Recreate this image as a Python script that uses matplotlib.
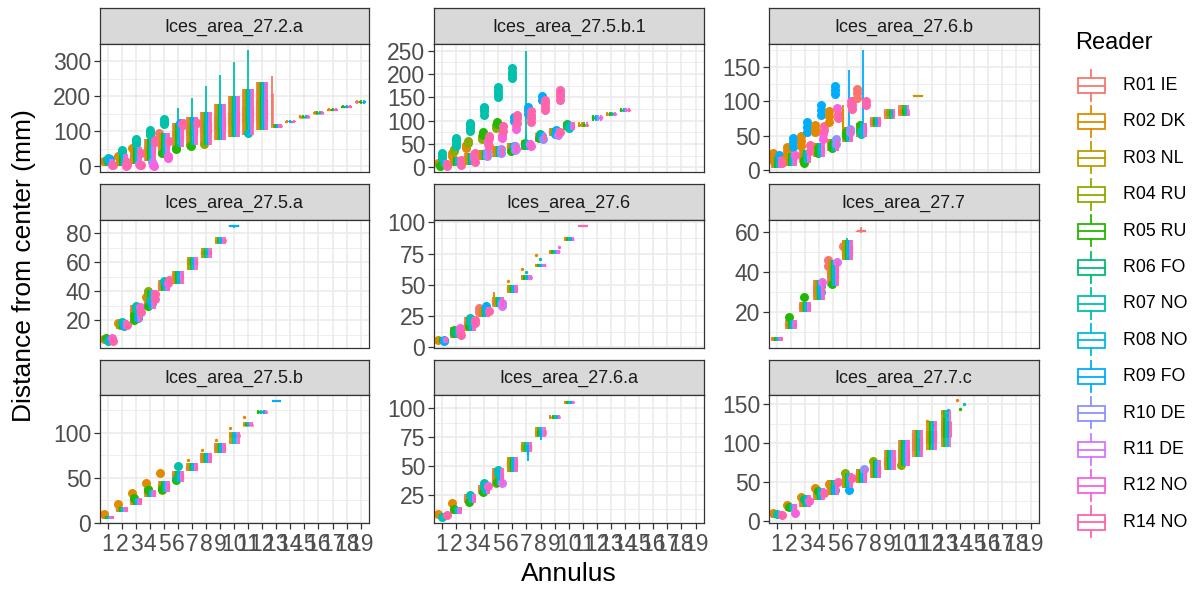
import matplotlib
matplotlib.use("Agg")
import matplotlib.pyplot as plt
from matplotlib.patches import Rectangle
from matplotlib.ticker import MultipleLocator, FixedLocator

plt.rcParams['font.family'] = ['Liberation Sans', 'DejaVu Sans']

# ---------------- data ----------------
READERS = ["R01 IE", "R02 DK", "R03 NL", "R04 RU", "R05 RU", "R06 FO", "R07 NO",
           "R08 NO", "R09 FO", "R10 DE", "R11 DE", "R12 NO", "R14 NO"]
COLORS = ["#F8766D", "#E18A00", "#BE9C00", "#8CAB00", "#24B700", "#00BE70", "#00C1AB",
          "#00BBDA", "#00ACFC", "#8B93FF", "#D575FE", "#F962DD", "#FF65AC"]
ANNULUS_LABELS = [str(i) for i in range(1, 20)]
ALL = list(range(13))

# Ices_area_27.2.a : (lo, q1, med, q3, hi) per annulus
a272a_ann = list(range(1, 20))
a272a_box = [(0, 3, 7, 12, 20), (2, 9, 15, 22, 35), (8, 22, 30, 38, 55), (15, 35, 45, 55, 78),
             (30, 52, 62, 72, 95), (55, 78, 90, 102, 125), (60, 88, 100, 115, 140),
             (62, 95, 110, 125, 155), (75, 105, 120, 140, 178), (85, 115, 135, 155, 200),
             (90, 125, 145, 170, 220), (105, 130, 160, 190, 240), (110, 113, 115, 117, 120),
             (124, 126, 128, 130, 133), (137, 139, 141, 143, 146), (148, 150, 152, 154, 157),
             (157, 159, 161, 163, 166), (166, 168, 170, 172, 175), (179, 181, 183, 185, 188)]
a272a_rd = {13: [0, 3, 4, 8, 11, 12], 14: [1, 8, 12], 15: [1, 4, 8, 12], 16: [1, 4, 8, 12],
            17: [1, 4, 11], 18: [4, 8, 12], 19: [0, 4, 8]}
a272a_long = [(6, 6, 100, 110, 125, 167), (7, 6, 105, 115, 135, 195), (8, 6, 100, 120, 145, 228),
              (9, 6, 110, 130, 160, 262), (10, 6, 120, 140, 180, 297), (11, 6, 120, 140, 200, 333),
              (12, 4, 105, 120, 200, 240), (13, 0, 110, 115, 210, 257)]
a272a_out = [(1, 6, [20, 25]), (1, 1, [15]), (1, 5, [18]), (1, 8, [20]), (1, 11, [5]), (1, 12, [4]),
             (2, 6, [40, 48]), (2, 1, [30]), (2, 11, [8, 2]), (2, 12, [12, 5]),
             (3, 6, [65, 72, 78]), (3, 1, [52]), (3, 12, [38, 5]), (3, 11, [3]), (3, 10, [8]),
             (4, 6, [90, 98, 105]), (4, 12, [76, 70]), (4, 10, [5, 8]), (4, 11, [2]), (4, 9, [12]),
             (5, 6, [120, 128, 135]), (5, 0, [95]), (5, 12, [72]), (5, 4, [38]), (5, 11, [25, 30]),
             (6, 4, [50]), (6, 3, [52]), (6, 12, [125, 118]), (6, 11, [120]), (6, 8, [125]),
             (7, 4, [57]), (7, 3, [62]), (7, 8, [130]), (7, 12, [125]), (8, 3, [65]), (11, 6, [95])]

# Ices_area_27.5.b.1
a275b1_ann = list(range(1, 15))
a275b1_box = [(0, 4, 8, 12, 16), (2, 8, 12, 17, 23), (6, 14, 19, 24, 31), (16, 22, 27, 32, 38),
              (23, 30, 34, 39, 45), (31, 37, 41, 46, 52), (38, 45, 50, 54, 59), (55, 60, 64, 68, 73),
              (66, 70, 75, 80, 84), (80, 84, 89, 93, 98), (86, 88, 90, 93, 96),
              (100, 103, 106, 109, 112), (110, 112, 114, 116, 118), (119, 121, 122, 124, 126)]
a275b1_rd = {11: [1, 2, 4, 12], 12: [4, 8, 9, 11], 13: [1, 4, 6, 11], 14: [4, 8, 11, 12]}
a275b1_long = [(7, 6, 55, 60, 70, 250)]
a275b1_out = [(1, 4, [2, 6]), (1, 6, [20, 26, 31]), (1, 1, [10]), (1, 12, [3, 8]),
              (2, 1, [25, 30]), (2, 3, [35, 40]), (2, 6, [45, 52, 58, 63]), (2, 12, [5, 10, 15]),
              (3, 1, [42, 48]), (3, 3, [52, 56]), (3, 6, [78, 84, 90, 95]), (3, 11, [20, 28]), (3, 12, [12, 30]),
              (4, 3, [60, 66]), (4, 4, [70, 76]), (4, 6, [113, 120, 126, 130]), (4, 11, [50, 56]),
              (4, 12, [45, 62, 68]), (4, 9, [25, 32]),
              (5, 3, [84, 90]), (5, 4, [92, 97]), (5, 6, [150, 157, 164, 171]), (5, 11, [62, 70]),
              (5, 12, [78, 88]), (5, 9, [30, 40]),
              (6, 6, [192, 198, 205, 212]), (6, 8, [100, 108]), (6, 11, [82, 90]), (6, 12, [95, 105, 112]),
              (6, 9, [38, 45]), (6, 4, [35]), (6, 8, [45]), (6, 10, [40]),
              (7, 8, [115, 122, 130]), (7, 12, [98, 105, 112, 120]), (7, 4, [48, 53]), (7, 10, [50]),
              (7, 5, [48]), (7, 11, [45]),
              (8, 8, [145, 152]), (8, 12, [122, 130, 138, 145]), (8, 5, [68, 72]), (8, 9, [60]),
              (8, 4, [62]), (8, 8, [66]),
              (9, 12, [145, 152, 160, 165]), (9, 8, [80]), (9, 10, [70]), (9, 7, [72]), (9, 12, [75]),
              (10, 4, [88, 92]), (10, 5, [90]), (10, 6, [85]), (12, 8, [108])]

# Ices_area_27.6.b
a276b_ann = list(range(1, 12))
a276b_box = [(3, 6, 9, 13, 19), (5, 10, 14, 18, 24), (10, 15, 19, 24, 29), (19, 24, 28, 33, 39),
             (28, 33, 36, 40, 45), (40, 46, 50, 55, 62), (48, 54, 58, 63, 68), (63, 66, 70, 74, 77),
             (74, 78, 81, 85, 89), (78, 82, 85, 89, 95), (107, 107.5, 108, 108.5, 109)]
a276b_rd = {8: [0, 1, 4, 6, 8, 11, 12], 9: [0, 1, 3, 4, 6, 8, 12], 10: [0, 1, 4, 5, 6, 11], 11: [2]}
a276b_long = [(6, 8, 48, 52, 60, 145), (7, 8, 53, 56, 66, 174), (6, 1, 55, 63, 87, 95)]
a276b_out = [(1, 1, [15, 20, 25]), (1, 8, [18, 22]), (1, 12, [10, 14]),
             (2, 1, [22, 28, 34]), (2, 8, [34, 40, 46]), (2, 11, [22]),
             (3, 1, [35, 42, 50]), (3, 8, [55, 62, 70]), (3, 12, [28, 36]), (3, 4, [10, 15]),
             (4, 1, [55, 60, 66]), (4, 8, [80, 87, 94]), (4, 11, [45, 52]), (4, 12, [58, 64]), (4, 4, [25, 32]),
             (5, 1, [70, 78, 85]), (5, 8, [110, 116, 122]), (5, 12, [75, 82]), (5, 11, [90]),
             (5, 4, [32, 38]), (5, 9, [38, 45]),
             (6, 12, [88, 95, 100]), (6, 11, [95, 100]), (6, 4, [50, 55]), (6, 9, [55, 60]),
             (7, 0, [105, 112, 118]), (7, 12, [95, 100]), (7, 4, [58, 65]), (7, 6, [52, 56]),
             (10, 11, [82])]

# Ices_area_27.5.a
a275a_ann = list(range(1, 11))
a275a_box = [(5, 6, 7, 8, 9), (14, 15, 16.5, 18, 20), (19, 22, 25, 28, 31), (28, 31, 34, 37, 41),
             (40, 42, 44, 46, 48), (45, 48, 50, 52, 54), (55, 58, 60, 62, 64), (63, 65, 66.5, 68, 70),
             (73, 74, 75, 76, 77.5), (84, 84.5, 85, 85.5, 86)]
a275a_rd = {7: [1, 3, 4, 6, 8, 10, 12], 8: [1, 3, 4, 6, 8, 10, 12], 9: [1, 4, 6, 8, 11, 12], 10: [8]}
a275a_long = []
a275a_out = [(1, 1, [7]), (1, 4, [8]), (1, 6, [6]), (1, 8, [7]), (1, 11, [8]), (1, 12, [6]),
             (2, 1, [18]), (2, 3, [17]), (2, 6, [19]), (2, 8, [16]), (2, 12, [17]),
             (3, 6, [28, 30]), (3, 4, [20, 24]), (3, 8, [22]), (3, 12, [26]), (3, 11, [29]),
             (4, 3, [38, 40]), (4, 1, [36]), (4, 6, [34]), (4, 8, [32]), (4, 12, [35, 38]), (4, 4, [30]),
             (5, 11, [46]), (5, 8, [45]), (5, 6, [47]), (5, 12, [48])]

# Ices_area_27.6
a276_ann = list(range(1, 12))
a276_box = [(3, 4, 5.5, 7, 8), (7, 9, 11, 13, 16), (13, 15, 18, 21, 24), (24, 26, 28, 30, 32),
            (32, 34, 36, 38, 40), (43, 45, 46.5, 48, 50), (54, 55, 56, 57, 58), (64, 65, 65.5, 66, 67),
            (75, 76, 76.5, 77, 78), (85, 86, 86.5, 87, 88), (96.5, 97, 97, 97, 97.5)]
a276_rd = {7: [1, 4, 6, 8, 10, 11], 8: [1, 4, 6, 8, 10, 11], 9: [1, 4, 6, 8, 10, 11],
           10: [1, 4, 6, 8, 11], 11: [12]}
a276_long = [(5, 1, 33, 35, 42, 44)]
a276_out = [(1, 8, [5, 6]), (1, 1, [6]),
            (2, 4, [11, 14]), (2, 5, [12]), (2, 11, [12, 15]), (2, 12, [10]),
            (3, 6, [20, 23]), (3, 4, [17]), (3, 12, [19, 22]),
            (4, 0, [28, 31]), (4, 8, [30, 33]), (4, 12, [29]),
            (5, 10, [33, 35]),
            (6, 1, [53]), (7, 1, [63]), (7, 6, [60]), (8, 1, [74]), (8, 6, [71]), (9, 11, [80])]

# Ices_area_27.7
a277_ann = list(range(1, 8))
a277_box = [(5.5, 6, 6.5, 7, 7.5), (11.5, 12.5, 13.5, 14.5, 16), (20, 21, 22.5, 24, 25),
            (26, 29, 31, 33, 36), (33, 37, 40, 43, 46), (46, 48, 50, 53, 56), (59.5, 60, 60.2, 60.5, 62.5)]
a277_rd = {7: [0]}
a277_long = [(6, 6, 47, 49, 54, 57)]
a277_out = [(2, 4, [17.5]), (3, 4, [27.5]), (4, 8, [30, 33]), (4, 10, [35]),
            (5, 0, [43, 46]), (5, 4, [34]), (5, 10, [45]), (6, 0, [53])]

# Ices_area_27.5.b
a275b_ann = list(range(1, 14))
a275b_box = [(4, 5, 6, 7, 8), (12, 13, 14.5, 16, 18), (20, 22, 24, 26, 28), (29, 31, 32.5, 34, 36),
             (34, 37, 40, 43, 46), (45, 48, 51, 54, 57), (57, 59, 61, 63, 66), (66, 69, 72, 75, 78),
             (77, 80, 83, 86, 89), (88, 95, 97, 99, 101), (107, 108, 109, 110, 112),
             (121, 122, 123, 124, 125), (134.5, 135, 135, 135, 135.5)]
a275b_rd = {10: [1, 3, 6, 8, 9, 12], 11: [1, 4, 8, 11, 12], 12: [4, 6, 8, 12], 13: [8]}
a275b_long = []
a275b_out = [(1, 1, [10]), (2, 1, [21]), (3, 1, [33]), (3, 4, [27]), (4, 1, [44]), (4, 3, [38]),
             (4, 4, [36]), (5, 3, [36, 40]), (5, 4, [38]), (6, 6, [63]), (6, 4, [48]), (6, 5, [50]),
             (5, 1, [55]), (7, 1, [70]), (8, 1, [81]), (9, 1, [92]), (10, 1, [105]), (11, 1, [117])]

# Ices_area_27.6.a
a276a_ann = list(range(1, 11))
a276a_box = [(5, 6, 7, 8, 9), (9, 11, 12.5, 14, 15), (18, 20, 22, 24, 26), (26, 28, 30, 32, 34),
             (34, 37, 40, 44, 48), (45, 48, 51, 54, 58), (62, 64, 66, 68, 71), (75, 77, 79, 81, 84),
             (91, 92, 92.5, 93, 94), (104, 105, 105.5, 106, 106.5)]
a276a_rd = {7: [1, 3, 4, 6, 8, 10, 12], 8: [1, 4, 6, 8, 10, 12], 9: [1, 4, 6, 8, 11], 10: [1, 4, 6, 8, 11]}
a276a_long = [(7, 8, 54, 60, 68, 71), (8, 8, 73, 76, 80, 84)]
a276a_out = [(1, 1, [9]), (1, 12, [7.7]), (1, 6, [6]), (2, 1, [18.4]), (2, 4, [13]),
             (3, 6, [25]), (3, 4, [19]), (4, 6, [32, 35]), (4, 4, [28]), (4, 11, [33]),
             (5, 6, [44, 47]), (5, 3, [35]), (5, 4, [36]), (5, 10, [35])]

# Ices_area_27.7.c
a277c_ann = list(range(1, 15))
a277c_box = [(4, 6, 8, 10, 12), (12, 14, 16, 19, 22), (18, 21, 24, 28, 33), (27, 30, 33, 37, 42),
             (33, 37, 41, 46, 52), (42, 46, 50, 55, 61), (48, 52, 56, 61, 67), (55, 60, 65, 71, 78),
             (65, 70, 75, 82, 91), (70, 76, 83, 92, 104), (82, 90, 97, 106, 117),
             (91, 100, 108, 116, 128), (95, 108, 118, 128, 143), None]
a277c_rd = {11: [0, 1, 3, 4, 6, 8, 11, 12], 12: [1, 3, 4, 6, 8, 11, 12], 13: [1, 4, 6, 8, 12], 14: [1, 4, 6]}
a277c_long = []
a277c_out = [(1, 1, [10]), (1, 6, [8]), (1, 12, [7]), (2, 1, [20]), (2, 11, [9.5]), (2, 4, [18]),
             (3, 1, [31]), (3, 5, [28]), (3, 11, [25]), (4, 1, [42]), (4, 4, [38]), (4, 12, [36]),
             (5, 12, [50]), (5, 1, [47]), (5, 8, [40]), (6, 3, [61]), (6, 8, [39]), (6, 12, [55]),
             (7, 9, [67]), (8, 3, [77]), (10, 3, [72]),
             (11, 1, [115]), (11, 0, [110]), (12, 3, [100]), (12, 1, [128]), (12, 8, [123]),
             (13, 1, [140]), (13, 4, [131]), (13, 6, [136]), (13, 8, [143]),
             (14, 1, [155]), (14, 4, [144]), (14, 6, [150])]

# ---------------- layout / style ----------------
W, H = 1198, 592
PANELS = [
    ("Ices_area_27.2.a", a272a_ann, a272a_box, a272a_rd, a272a_long, a272a_out, 0, 0, (-16, 349), 100, 50, 12),
    ("Ices_area_27.5.b.1", a275b1_ann, a275b1_box, a275b1_rd, a275b1_long, a275b1_out, 0, 1, (-10, 264), 50, 25, 10),
    ("Ices_area_27.6.b", a276b_ann, a276b_box, a276b_rd, a276b_long, a276b_out, 0, 2, (-3, 183), 50, 25, 7),
    ("Ices_area_27.5.a", a275a_ann, a275a_box, a275a_rd, a275a_long, a275a_out, 1, 0, (1.4, 89.2), 20, 10, 5),
    ("Ices_area_27.6", a276_ann, a276_box, a276_rd, a276_long, a276_out, 1, 1, (-0.3, 101.9), 25, 12.5, 5),
    ("Ices_area_27.7", a277_ann, a277_box, a277_rd, a277_long, a277_out, 1, 2, (2.3, 65.8), 20, 10, 6),
    ("Ices_area_27.5.b", a275b_ann, a275b_box, a275b_rd, a275b_long, a275b_out, 2, 0, (-0.3, 141.9), 50, 25, 6),
    ("Ices_area_27.6.a", a276a_ann, a276a_box, a276a_rd, a276a_long, a276a_out, 2, 1, (0.8, 111.5), 25, 12.5, 5),
    ("Ices_area_27.7.c", a277c_ann, a277c_box, a277c_rd, a277c_long, a277c_out, 2, 2, (-3, 162), 50, 25, 10),
]
COL_X = [(99.5, 369), (433.5, 704), (768.5, 1039)]
ROW_Y = [(8, 44, 172), (184, 220, 347.5), (359.5, 395, 523)]
GRID = "#EBEBEB"
DARK = "#333333"
PX_PER_UNIT = 269.5 / 19.2


def rect(x0, y0, x1, y1):
    return [x0 / W, 1 - y1 / H, (x1 - x0) / W, (y1 - y0) / H]


def positions(a, readers, r):
    if r in readers:
        n, i = len(readers), readers.index(r)
    else:
        n, i = 13, r
    w = 0.75 / n
    return a - 0.375 + (i + 0.5) * w, w


def draw_panel(ax, ann, box, rd, longs, outs, big_upto):
    long_map = {(a, r): (lo, q1, q3, hi) for a, r, lo, q1, q3, hi in longs}
    z = 3
    for a, st in zip(ann, box):
        readers = rd.get(a, ALL)
        outs_here = [o for o in outs if o[0] == a]
        for r in range(13):
            col = COLORS[r]
            if st is not None and r in readers:
                x, w = positions(a, readers, r)
                lo, q1, med, q3, hi = st
                if (a, r) in long_map:
                    lo, q1, q3, hi = long_map[(a, r)]
                    med = (q1 + q3) / 2
                bw = w * 0.9
                box_lw = max(bw * PX_PER_UNIT + 1.0, 2.2) * 0.72
                ax.vlines(x, lo, hi, color=col, lw=1.3, zorder=z)
                ax.vlines(x, q1, q3, color=col, lw=box_lw, zorder=z, capstyle="butt")
                ax.hlines(med, x - bw / 2, x + bw / 2, color=col, lw=1.6, zorder=z)
                z += 0.01
            for oa, orr, vals in outs_here:
                if orr != r:
                    continue
                x, w = positions(a, readers, r)
                s = 42 if a <= big_upto else 6
                ax.scatter([x] * len(vals), vals, s=s, color=col, linewidths=0, zorder=z)
                z += 0.01


fig = plt.figure(figsize=(W / 100, H / 100), dpi=100)

for (name, ann, box, rd, longs, outs, row, col, ylim, major, minor, big_upto) in PANELS:
    x0, x1 = COL_X[col]
    s0, s1, p1 = ROW_Y[row]
    # strip
    sax = fig.add_axes(rect(x0, s0, x1, s1))
    sax.set_facecolor("#D9D9D9")
    sax.set_xticks([])
    sax.set_yticks([])
    for sp in sax.spines.values():
        sp.set_color(DARK)
        sp.set_linewidth(0.9)
    sax.text(0.5, 0.47, name, ha="center", va="center", fontsize=13, color="#1A1A1A",
             transform=sax.transAxes)
    # panel
    ax = fig.add_axes(rect(x0, s1, x1, p1))
    ax.set_xlim(0.4, 19.6)
    ax.set_ylim(*ylim)
    ax.xaxis.set_major_locator(FixedLocator(list(range(1, 20))))
    ax.yaxis.set_major_locator(MultipleLocator(major))
    ax.yaxis.set_minor_locator(MultipleLocator(minor))
    ax.xaxis.set_minor_locator(FixedLocator([]))
    ax.grid(which="major", color=GRID, lw=1.2, zorder=0)
    ax.grid(which="minor", axis="y", color=GRID, lw=0.6, zorder=0)
    ax.set_axisbelow(True)
    for sp in ax.spines.values():
        sp.set_color(DARK)
        sp.set_linewidth(0.9)
        sp.set_zorder(10)
    ax.tick_params(which="major", length=4, width=0.9, color=DARK, labelsize=16.5,
                   labelcolor="#4D4D4D", pad=2)
    ax.tick_params(which="minor", length=0)
    if row == 2:
        ax.set_xticklabels(ANNULUS_LABELS)
        ax.tick_params(axis="x", pad=3)
    else:
        ax.set_xticklabels([])
        ax.tick_params(axis="x", length=0)
    yt = [t for t in ax.get_yticks() if ylim[0] <= t <= ylim[1]]
    ax.set_yticks(yt)
    ax.set_yticklabels([("%g" % t) for t in yt])
    draw_panel(ax, ann, box, rd, longs, outs, big_upto)

# axis titles
fig.text(24 / W, 1 - 265.5 / H, "Distance from center (mm)", rotation=90, ha="center",
         va="center", fontsize=19, color="black")
fig.text(569 / W, 1 - 574 / H, "Annulus", ha="center", va="center", fontsize=19, color="black")

# legend
lax = fig.add_axes([0, 0, 1, 1], facecolor="none")
lax.set_xlim(0, W)
lax.set_ylim(H, 0)
lax.axis("off")
lax.text(1075, 43, "Reader", ha="left", va="center", fontsize=17, color="black")
for i, (lab, c) in enumerate(zip(READERS, COLORS)):
    yc = 85.5 + i * 36.4
    lax.add_patch(Rectangle((1077.5, yc - 7.5), 27.5, 15, facecolor="white", edgecolor=c, lw=1.3))
    lax.plot([1077.5, 1105], [yc, yc], color=c, lw=1.3)
    lax.plot([1091.2, 1091.2], [yc - 16, yc - 7.5], color=c, lw=1.3)
    lax.plot([1091.2, 1091.2], [yc + 7.5, yc + 15], color=c, lw=1.3)
    lax.text(1123, yc, lab, ha="left", va="center", fontsize=12.8, color="black")

fig.savefig("out.png", dpi=100)
